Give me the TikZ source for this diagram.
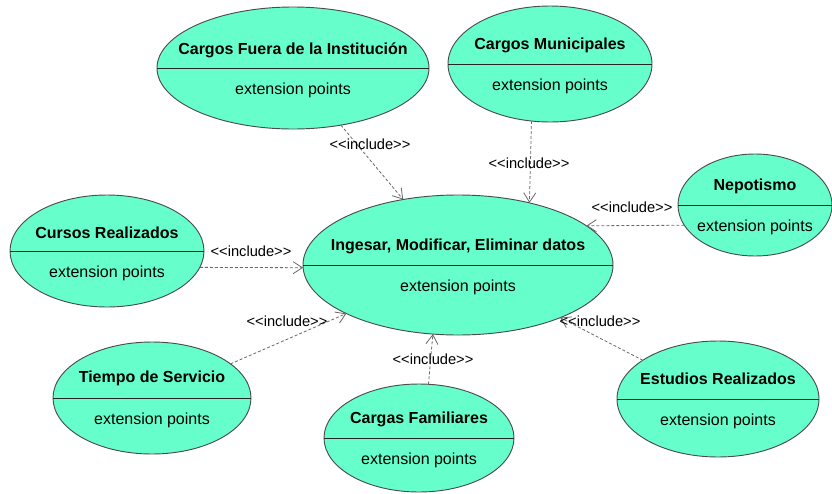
\documentclass[tikz,border=0pt]{standalone}
\usepackage{fontspec}
\setmainfont{Liberation Sans}
\usetikzlibrary{shapes.geometric,arrows.meta}
\definecolor{ucfill}{RGB}{102,255,204}
\definecolor{inclgray}{RGB}{105,105,105}
\newcommand{\inclname}{<\kern0pt<include>\kern0pt>}
\tikzset{usecase/.style={ellipse,draw=black!70,fill=ucfill,line width=0.7pt,inner sep=0pt,outer sep=0pt}}
\tikzset{ucname/.style={font=\fontsize{12}{14}\selectfont\bfseries,inner sep=0pt}}
\tikzset{ucext/.style={font=\fontsize{12}{14}\selectfont,inner sep=0pt}}
\tikzset{incl/.style={draw=inclgray,line width=0.6pt,dash pattern=on 2.25pt off 1.5pt,-{Straight Barb[length=7pt,width=9pt]}}}
\tikzset{incltext/.style={font=\fontsize{11}{13}\selectfont,inner sep=0pt}}
\begin{document}
\begin{tikzpicture}[x=0.75pt,y=-0.75pt]
	\useasboundingbox (0,0) rectangle (832,493);
	% use cases
	\node[usecase,minimum width=232.5pt,minimum height=105pt] (central) at (458,265) {};
	\node[usecase,minimum width=204pt,minimum height=91.5pt] (cfi) at (293,68) {};
	\node[usecase,minimum width=153pt,minimum height=87pt] (cm) at (550,64) {};
	\node[usecase,minimum width=115.5pt,minimum height=76.5pt] (nep) at (755,205) {};
	\node[usecase,minimum width=145.5pt,minimum height=84pt] (cur) at (107,251) {};
	\node[usecase,minimum width=148.5pt,minimum height=84pt] (tie) at (152,398) {};
	\node[usecase,minimum width=142.5pt,minimum height=81pt] (caf) at (419,438) {};
	\node[usecase,minimum width=151.5pt,minimum height=87pt] (est) at (718,399) {};
	\foreach \uc in {central,cfi,cm,nep,cur,tie,caf,est} {
		\draw[black!85,line width=0.7pt] (\uc.west) -- (\uc.east);
		\node[ucext] (\uc-ext) at ([yshift=-16.5pt]\uc.center) {extension points};
	}
	\node[ucname] (central-name) at ([yshift=14pt]central.center) {Ingesar, Modificar, Eliminar datos};
	\node[ucname] (cfi-name) at ([yshift=13pt]cfi.center) {Cargos Fuera de la Institución};
	\node[ucname] (cm-name) at ([yshift=14pt]cm.center) {Cargos Municipales};
	\node[ucname] (nep-name) at ([yshift=14pt]nep.center) {Nepotismo};
	\node[ucname] (cur-name) at ([yshift=14pt]cur.center) {Cursos Realizados};
	\node[ucname] (tie-name) at ([yshift=15pt]tie.center) {Tiempo de Servicio};
	\node[ucname] (caf-name) at ([yshift=14pt]caf.center) {Cargas Familiares};
	\node[ucname] (est-name) at ([yshift=15pt]est.center) {Estudios Realizados};
	% include relations
	\draw[incl] (cfi) -- (central);
	\draw[incl] (cm.-108) -- (central.41);
	\draw[incl] (nep.-164) -- (central.17.5);
	\draw[incl] (cur.-10) -- (central.-179);
	\draw[incl] (tie) -- (central);
	\draw[incl] (caf.80) -- (central.-110);
	\draw[incl] (est) -- (central);
	\node[incltext] (cfi-inc) at (370,144) {\inclname};
	\node[incltext] (cm-inc) at (529,163) {\inclname};
	\node[incltext] (nep-inc) at (632,207) {\inclname};
	\node[incltext] (cur-inc) at (251,251) {\inclname};
	\node[incltext] (tie-inc) at (287,321) {\inclname};
	\node[incltext] (caf-inc) at (433,359) {\inclname};
	\node[incltext] (est-inc) at (600,321) {\inclname};
\end{tikzpicture}
\end{document}
